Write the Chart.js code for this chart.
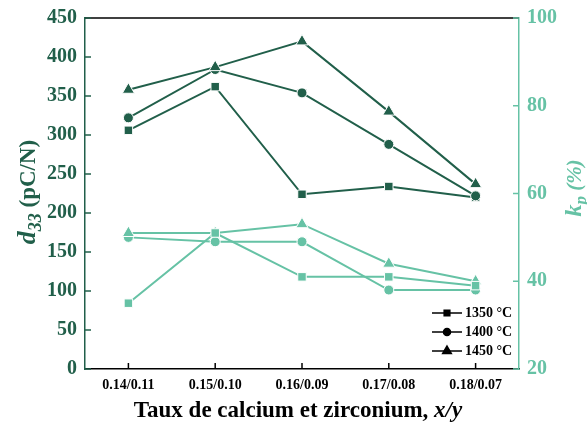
<!DOCTYPE html>
<html>
<head>
<meta charset="utf-8">
<script src="https://cdn.jsdelivr.net/npm/chart.js@4.4.0/dist/chart.umd.min.js"></script>
<style>
  html, body { margin: 0; padding: 0; background: #fff; }
  #wrap { width: 587px; height: 425px; }
</style>
</head>
<body>
<div id="wrap"><canvas id="chart" width="587" height="425"></canvas></div>
<script>
const categories = ['0.14/0.11', '0.15/0.10', '0.16/0.09', '0.17/0.08', '0.18/0.07'];
const temps = ['1350 °C', '1400 °C', '1450 °C'];
const d33_1350 = [306, 362, 224, 234, 220];
const d33_1400 = [322, 384, 354, 288, 222];
const d33_1450 = [358, 387, 420, 330, 237];
const kp_1350 = [35, 51, 41, 41, 39];
const kp_1400 = [50, 49, 49, 38, 38];
const kp_1450 = [51, 51, 53, 44, 40];
const d33Range = [0, 450, 50];
const kpRange = [20, 100, 20];

const dark = '#215f4a';
const light = '#66c2a5';
const serif = '"Liberation Serif", "Times New Roman", serif';
const markers = ['rect', 'circle', 'triangle'];
const markerSize = [6, 5, 7];

const series = (label, data, i, color, axis, order) => ({
    label: label,
    data: data,
    yAxisID: axis,
    order: order,
    borderColor: color,
    backgroundColor: color,
    borderWidth: 2,
    pointStyle: markers[i],
    pointRadius: markerSize[i],
    pointBorderWidth: 1,
    pointBorderColor: '#fff',
    tension: 0
});

// inward tick marks, top frame line, custom legend and axis titles
const decorations = {
    id: 'decorations',
    afterDraw(chart) {
        const ctx = chart.ctx;
        const area = chart.chartArea;
        const x = chart.scales.x, y = chart.scales.y, y1 = chart.scales.y1;
        ctx.save();
        ctx.lineWidth = 1.5;
        ctx.strokeStyle = '#000';
        ctx.beginPath();
        ctx.moveTo(area.left, area.top);
        ctx.lineTo(area.right, area.top);
        ctx.stroke();
        x.ticks.forEach((t, i) => {
            const px = x.getPixelForTick(i);
            ctx.beginPath();
            ctx.moveTo(px, area.bottom);
            ctx.lineTo(px, area.bottom - 6);
            ctx.stroke();
        });
        ctx.strokeStyle = dark;
        y.ticks.forEach(t => {
            const py = y.getPixelForValue(t.value);
            ctx.beginPath();
            ctx.moveTo(area.left, py);
            ctx.lineTo(area.left + 6, py);
            ctx.stroke();
        });
        ctx.strokeStyle = light;
        y1.ticks.forEach(t => {
            const py = y1.getPixelForValue(t.value);
            ctx.beginPath();
            ctx.moveTo(area.right, py);
            ctx.lineTo(area.right - 6, py);
            ctx.stroke();
        });

        // legend
        ctx.fillStyle = '#000';
        ctx.strokeStyle = '#000';
        ctx.font = 'bold 14px ' + serif;
        ctx.textBaseline = 'middle';
        temps.forEach((t, i) => {
            const ly = 313 + i * 19;
            ctx.lineWidth = 1.5;
            ctx.beginPath();
            ctx.moveTo(432, ly);
            ctx.lineTo(462, ly);
            ctx.stroke();
            Chart.helpers.drawPoint(ctx, { pointStyle: markers[i], radius: [4, 3.5, 5][i], rotation: 0, borderWidth: 1 }, 447, ly);
            ctx.fill();
            ctx.fillText(t, 465, ly);
        });

        // axis titles with italic and subscript parts
        const drawParts = (parts, cx, cy, rot) => {
            ctx.save();
            ctx.translate(cx, cy);
            ctx.rotate(rot);
            ctx.textBaseline = 'alphabetic';
            ctx.textAlign = 'left';
            let total = 0;
            parts.forEach(p => { ctx.font = p.font; total += ctx.measureText(p.text).width; });
            let px = -total / 2;
            parts.forEach(p => {
                ctx.font = p.font;
                ctx.fillStyle = p.color;
                ctx.fillText(p.text, px, p.dy || 0);
                px += ctx.measureText(p.text).width;
            });
            ctx.restore();
        };
        drawParts([
            { text: 'd', font: 'italic bold 26px ' + serif, color: dark },
            { text: '33', font: 'italic bold 18px ' + serif, color: dark, dy: 6 },
            { text: ' (pC/N)', font: 'bold 23px ' + serif, color: dark }
        ], 35, 192, -Math.PI / 2);
        drawParts([
            { text: 'k', font: 'italic bold 24px ' + serif, color: light },
            { text: 'p', font: 'italic bold 17px ' + serif, color: light, dy: 5 },
            { text: ' (%)', font: 'italic bold 21px ' + serif, color: light }
        ], 581, 188, -Math.PI / 2);
        drawParts([
            { text: 'Taux de calcium et zirconium, ', font: 'bold 23px ' + serif, color: '#000' },
            { text: 'x/y', font: 'italic bold 23px ' + serif, color: '#000' }
        ], 298, 417, 0);
        ctx.restore();
    }
};

const renderChart = () => {
    const ctx = document.getElementById('chart').getContext('2d');
    new Chart(ctx, {
        type: 'line',
        data: {
            labels: categories,
            datasets: [
                series(temps[0], kp_1350, 0, light, 'y1', 3),
                series(temps[1], kp_1400, 1, light, 'y1', 5),
                series(temps[2], kp_1450, 2, light, 'y1', 4),
                series(temps[0], d33_1350, 0, dark, 'y', 2),
                series(temps[1], d33_1400, 1, dark, 'y', 1),
                series(temps[2], d33_1450, 2, dark, 'y', 0)
            ]
        },
        options: {
            responsive: false,
            animation: false,
            layout: { padding: { top: 18, left: 0, right: 0, bottom: 0 } },
            plugins: {
                legend: { display: false },
                tooltip: { enabled: false }
            },
            scales: {
                x: {
                    offset: true,
                    grid: { display: false },
                    border: { color: '#000', width: 1.5 },
                    ticks: { color: '#000', font: { family: serif, size: 14, weight: 'bold' }, padding: 0, maxRotation: 0 },
                    afterFit: s => { s.height = 56; }
                },
                y: {
                    position: 'left',
                    min: d33Range[0],
                    max: d33Range[1],
                    grid: { display: false },
                    border: { color: dark, width: 1.5 },
                    ticks: { stepSize: d33Range[2], color: dark, font: { family: serif, size: 20, weight: 'bold' }, padding: 0 },
                    afterFit: s => { s.width = 85; }
                },
                y1: {
                    position: 'right',
                    min: kpRange[0],
                    max: kpRange[1],
                    grid: { display: false },
                    border: { color: light, width: 1.5 },
                    ticks: { stepSize: kpRange[2], color: light, font: { family: serif, size: 20, weight: 'bold' }, padding: 0 },
                    afterFit: s => { s.width = 68; }
                }
            }
        },
        plugins: [decorations]
    });
};

document.addEventListener('DOMContentLoaded', () => {
    renderChart();
});
</script>
</body>
</html>
